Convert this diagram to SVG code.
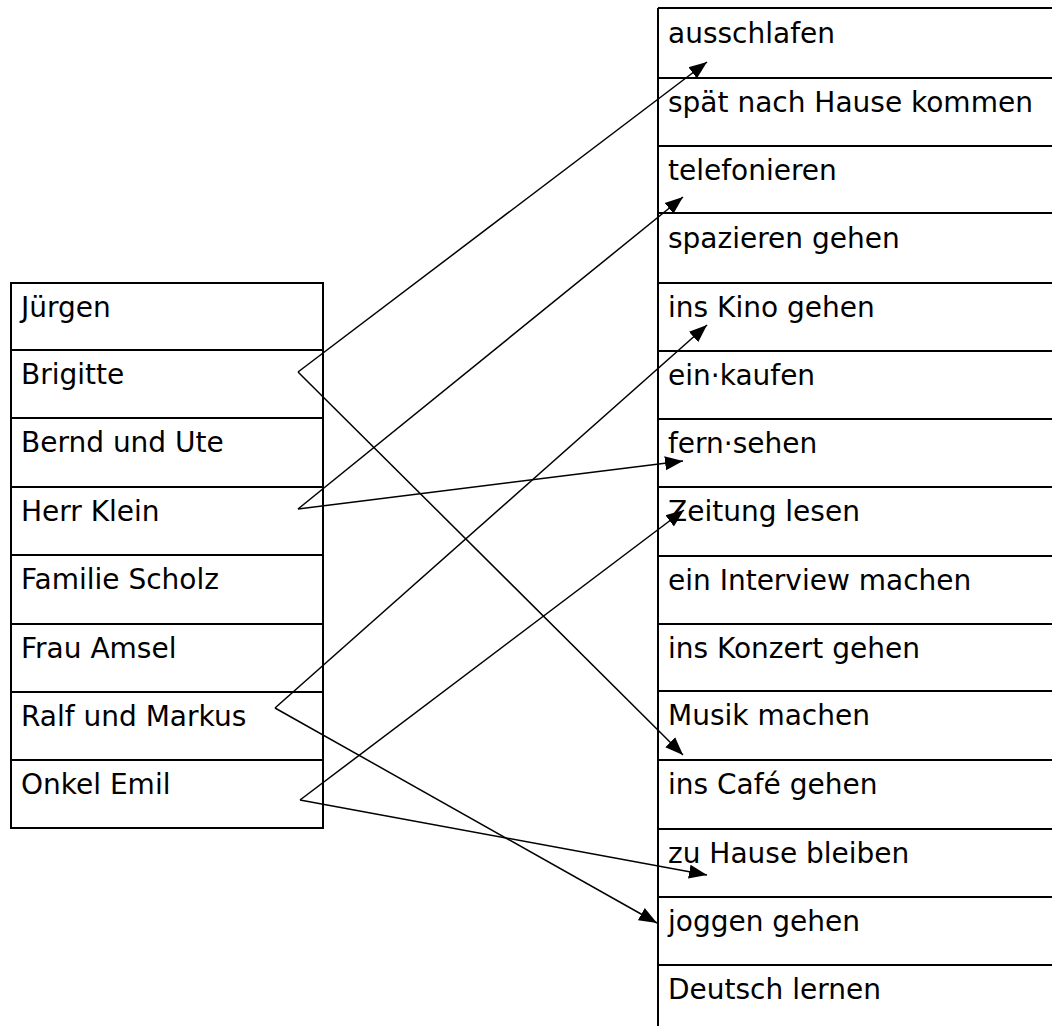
<svg xmlns="http://www.w3.org/2000/svg" width="1052" height="1026" viewBox="0 0 1052 1026">
<style>
.t{font-family:"Comic Sans MS","DejaVu Sans",sans-serif;font-size:28px;fill:#000}
.b{fill:none;stroke:#000;stroke-width:2}
.c{fill:none;stroke:#000;stroke-width:1.5}
</style>
<defs>
<marker id="ah" markerUnits="userSpaceOnUse" markerWidth="20" markerHeight="16" refX="18" refY="8" orient="auto">
<path d="M0,1 L18,8 L0,15 Z" fill="#000"/>
</marker>
</defs>
<rect width="1052" height="1026" fill="#fff"/>
<g id="left-table">
<rect class="b" x="11" y="283" width="312" height="545"/>
<path class="b" d="M11,350H323M11,418H323M11,487H323M11,555H323M11,624H323M11,692H323M11,760H323"/>
</g>
<g id="right-table">
<path class="b" d="M658,8V1026M658,8H1052M658,78H1052M658,146H1052M658,213H1052M658,283H1052M658,351H1052M658,419H1052M658,487H1052M658,556H1052M658,624H1052M658,691H1052M658,760H1052M658,829H1052M658,897H1052M658,965H1052"/>
</g>
<g id="n-juergen"><text class="t" x="21" y="317">Jürgen</text></g>
<g id="n-brigitte"><text class="t" x="21" y="384">Brigitte</text></g>
<g id="n-bernd"><text class="t" x="21" y="452">Bernd und Ute</text></g>
<g id="n-klein"><text class="t" x="21" y="521">Herr Klein</text></g>
<g id="n-scholz"><text class="t" x="21" y="589">Familie Scholz</text></g>
<g id="n-amsel"><text class="t" x="21" y="658">Frau Amsel</text></g>
<g id="n-ralf"><text class="t" x="21" y="726">Ralf und Markus</text></g>
<g id="n-emil"><text class="t" x="21" y="794">Onkel Emil</text></g>
<g id="a-ausschlafen"><text class="t" x="668" y="43">ausschlafen</text></g>
<g id="a-spaet"><text class="t" x="668" y="112">spät nach Hause kommen</text></g>
<g id="a-telefonieren"><text class="t" x="668" y="180">telefonieren</text></g>
<g id="a-spazieren"><text class="t" x="668" y="248">spazieren gehen</text></g>
<g id="a-kino"><text class="t" x="668" y="317">ins Kino gehen</text></g>
<g id="a-einkaufen"><text class="t" x="668" y="385">ein·kaufen</text></g>
<g id="a-fernsehen"><text class="t" x="668" y="453">fern·sehen</text></g>
<g id="a-zeitung"><text class="t" x="668" y="521">Zeitung lesen</text></g>
<g id="a-interview"><text class="t" x="668" y="590">ein Interview machen</text></g>
<g id="a-konzert"><text class="t" x="668" y="658">ins Konzert gehen</text></g>
<g id="a-musik"><text class="t" x="668" y="725">Musik machen</text></g>
<g id="a-cafe"><text class="t" x="668" y="794">ins Café gehen</text></g>
<g id="a-zuhause"><text class="t" x="668" y="863">zu Hause bleiben</text></g>
<g id="a-joggen"><text class="t" x="668" y="931">joggen gehen</text></g>
<g id="a-deutsch"><text class="t" x="668" y="999">Deutsch lernen</text></g>
<g id="connectors">
<line class="c" x1="298" y1="372" x2="707" y2="62" marker-end="url(#ah)"/>
<line class="c" x1="298" y1="372" x2="683" y2="755" marker-end="url(#ah)"/>
<line class="c" x1="298" y1="509" x2="683" y2="197" marker-end="url(#ah)"/>
<line class="c" x1="298" y1="509" x2="683" y2="461" marker-end="url(#ah)"/>
<line class="c" x1="275" y1="708" x2="707" y2="325" marker-end="url(#ah)"/>
<line class="c" x1="275" y1="708" x2="657" y2="923" marker-end="url(#ah)"/>
<line class="c" x1="300" y1="800" x2="684" y2="510" marker-end="url(#ah)"/>
<line class="c" x1="300" y1="800" x2="707" y2="875" marker-end="url(#ah)"/>
</g>
</svg>
